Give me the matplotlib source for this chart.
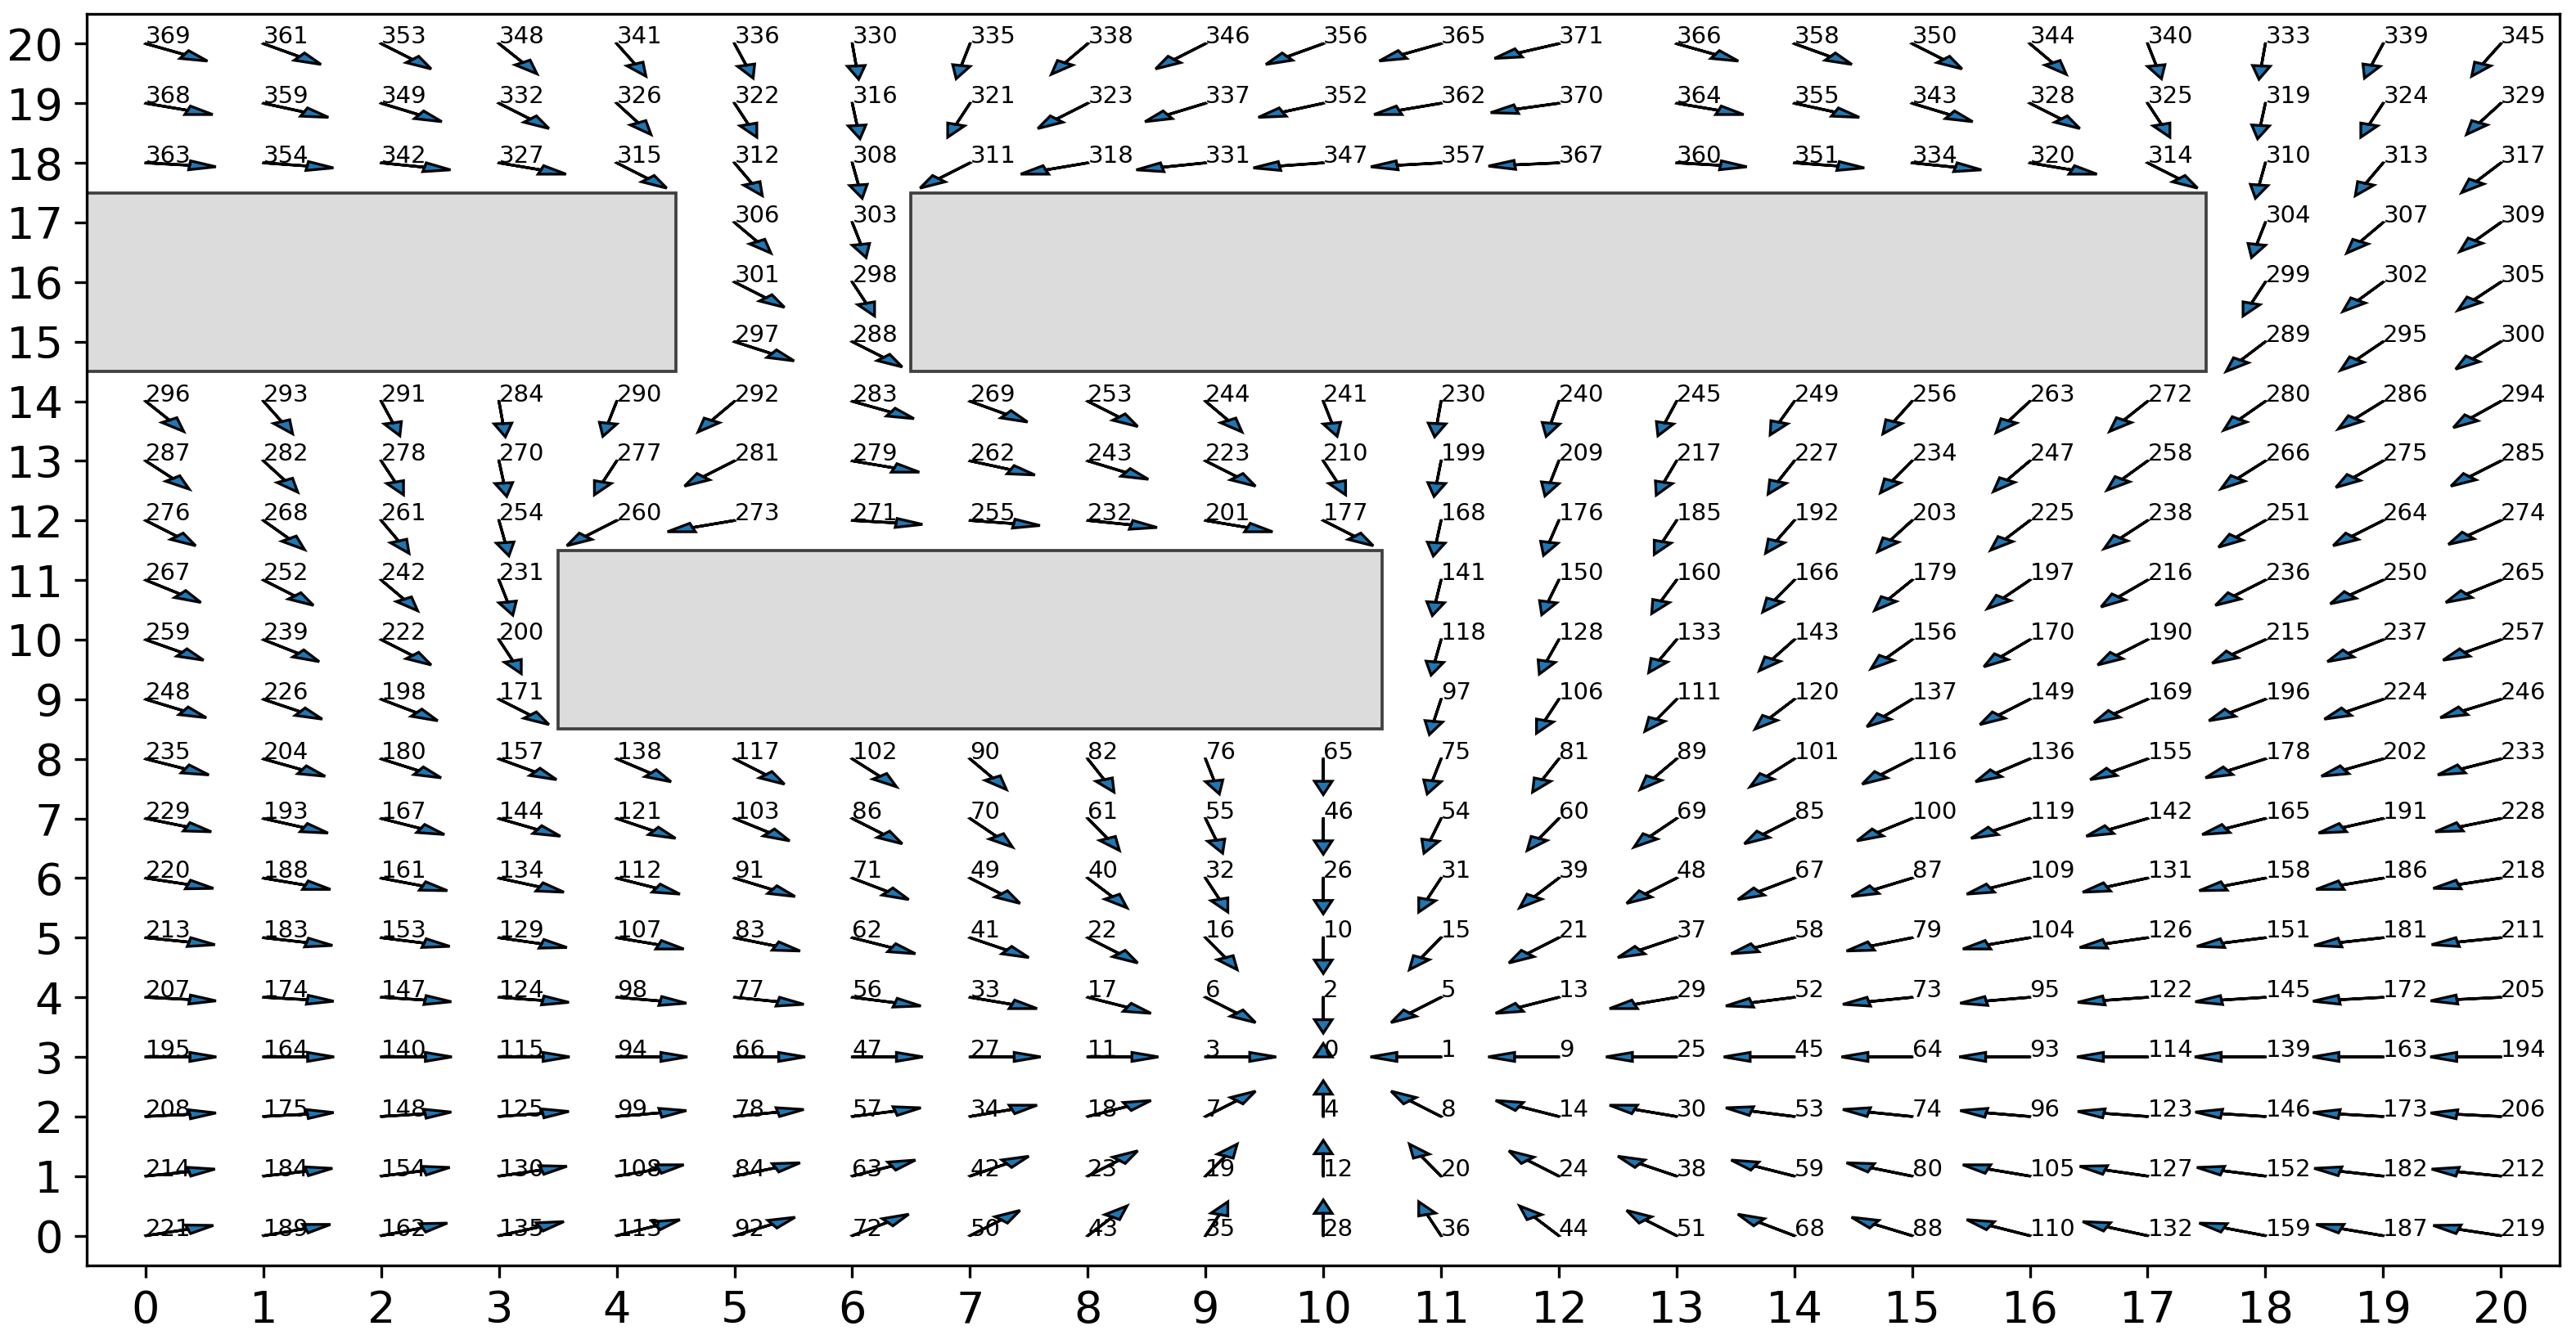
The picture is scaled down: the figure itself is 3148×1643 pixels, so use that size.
import numpy as np
import matplotlib
matplotlib.use("Agg")
import matplotlib.pyplot as plt
from matplotlib.patches import Rectangle

# expansion order of every free cell, rows from y=20 down to y=0 (None = obstacle)
labels = [
    [369, 361, 353, 348, 341, 336, 330, 335, 338, 346, 356, 365, 371, 366, 358, 350, 344, 340, 333, 339, 345],
    [368, 359, 349, 332, 326, 322, 316, 321, 323, 337, 352, 362, 370, 364, 355, 343, 328, 325, 319, 324, 329],
    [363, 354, 342, 327, 315, 312, 308, 311, 318, 331, 347, 357, 367, 360, 351, 334, 320, 314, 310, 313, 317],
    [None] * 5 + [306, 303] + [None] * 11 + [304, 307, 309],
    [None] * 5 + [301, 298] + [None] * 11 + [299, 302, 305],
    [None] * 5 + [297, 288] + [None] * 11 + [289, 295, 300],
    [296, 293, 291, 284, 290, 292, 283, 269, 253, 244, 241, 230, 240, 245, 249, 256, 263, 272, 280, 286, 294],
    [287, 282, 278, 270, 277, 281, 279, 262, 243, 223, 210, 199, 209, 217, 227, 234, 247, 258, 266, 275, 285],
    [276, 268, 261, 254, 260, 273, 271, 255, 232, 201, 177, 168, 176, 185, 192, 203, 225, 238, 251, 264, 274],
    [267, 252, 242, 231] + [None] * 7 + [141, 150, 160, 166, 179, 197, 216, 236, 250, 265],
    [259, 239, 222, 200] + [None] * 7 + [118, 128, 133, 143, 156, 170, 190, 215, 237, 257],
    [248, 226, 198, 171] + [None] * 7 + [97, 106, 111, 120, 137, 149, 169, 196, 224, 246],
    [235, 204, 180, 157, 138, 117, 102, 90, 82, 76, 65, 75, 81, 89, 101, 116, 136, 155, 178, 202, 233],
    [229, 193, 167, 144, 121, 103, 86, 70, 61, 55, 46, 54, 60, 69, 85, 100, 119, 142, 165, 191, 228],
    [220, 188, 161, 134, 112, 91, 71, 49, 40, 32, 26, 31, 39, 48, 67, 87, 109, 131, 158, 186, 218],
    [213, 183, 153, 129, 107, 83, 62, 41, 22, 16, 10, 15, 21, 37, 58, 79, 104, 126, 151, 181, 211],
    [207, 174, 147, 124, 98, 77, 56, 33, 17, 6, 2, 5, 13, 29, 52, 73, 95, 122, 145, 172, 205],
    [195, 164, 140, 115, 94, 66, 47, 27, 11, 3, 0, 1, 9, 25, 45, 64, 93, 114, 139, 163, 194],
    [208, 175, 148, 125, 99, 78, 57, 34, 18, 7, 4, 8, 14, 30, 53, 74, 96, 123, 146, 173, 206],
    [214, 184, 154, 130, 108, 84, 63, 42, 23, 19, 12, 20, 24, 38, 59, 80, 105, 127, 152, 182, 212],
    [221, 189, 162, 135, 113, 92, 72, 50, 43, 35, 28, 36, 44, 51, 68, 88, 110, 132, 159, 187, 219],
]

# arrow direction (degrees) read for each cell, same layout; None at the goal cell
angles = [
    [-29.1, -35.5, -45, -57.5, -65.6, -74.7, -84.8, -101.3, -121.0, -135, -144.5, -151.0, -155.6, -29.1, -35.5, -45, -59.0, -78.7, -95.2, -105.3, -114.4],
    [-18.4, -23.2, -31.0, -45, -61.0, -71.6, -83.7, -108.4, -135, -149.0, -156.8, -161.6, -164.7, -18.4, -23.2, -31.0, -45, -71.6, -96.3, -108.4, -119.1],
    [-6.3, -8.1, -11.3, -18.4, -45, -66.8, -81.9, -135, -161.6, -168.7, -171.9, -173.7, -174.8, -6.3, -8.1, -11.3, -18.4, -45, -98.1, -113.2, -123.7],
    [None] * 5 + [-59.0, -78.7] + [None] * 11 + [-101.3, -121.0, -125.5],
    [None] * 5 + [-45, -71.6] + [None] * 11 + [-108.4, -124.7, -127.6],
    [None] * 5 + [-32.5, -45] + [None] * 11 + [-123.7, -126.9, -129.8],
    [-57.5, -65.6, -74.7, -84.8, -101.3, -121.0, -29.1, -35.5, -45, -59.0, -78.7, -95.2, -100.3, -105.3, -110.0, -114.4, -118.6, -122.5, -126.0, -129.3, -132.3],
    [-52.1, -61.0, -71.6, -83.7, -108.4, -135, -18.4, -23.2, -31.0, -45, -71.6, -95.7, -101.3, -106.7, -111.8, -116.6, -121.0, -125.0, -128.7, -132.0, -135],
    [-45, -54.5, -66.8, -81.9, -135, -161.6, -6.3, -8.1, -11.3, -18.4, -45, -96.3, -102.5, -108.4, -114.0, -119.1, -123.7, -127.9, -131.6, -135, -138.0],
    [-38.7, -45, -59.0, -78.7] + [None] * 7 + [-97.1, -104.0, -110.6, -116.6, -122.0, -126.9, -131.2, -135, -138.4, -141.3],
    [-35.0, -37.9, -45, -71.6] + [None] * 7 + [-98.1, -106.0, -113.2, -119.7, -125.5, -130.6, -135, -138.8, -142.1, -145.0],
    [-31.0, -33.7, -36.9, -45] + [None] * 7 + [-99.5, -108.4, -116.6, -123.7, -129.8, -135, -139.4, -143.1, -146.3, -149.0],
    [-26.6, -29.1, -32.0, -35.5, -39.8, -45, -51.3, -59.0, -68.2, -78.7, -90, -101.3, -111.8, -121.0, -128.7, -135, -140.2, -144.5, -148.0, -151.0, -153.4],
    [-21.8, -24.0, -26.6, -29.7, -33.7, -38.7, -45, -53.1, -63.4, -76.0, -90, -104.0, -116.6, -126.9, -135, -141.3, -146.3, -150.3, -153.4, -156.0, -158.2],
    [-16.7, -18.4, -20.6, -23.2, -26.6, -31.0, -36.9, -45, -56.3, -71.6, -90, -108.4, -123.7, -135, -143.1, -149.0, -153.4, -156.8, -159.4, -161.6, -163.3],
    [-11.3, -12.5, -14.0, -15.9, -18.4, -21.8, -26.6, -33.7, -45, -63.4, -90, -116.6, -135, -146.3, -153.4, -158.2, -161.6, -164.1, -166.0, -167.5, -168.7],
    [-5.7, -6.3, -7.1, -8.1, -9.5, -11.3, -14.0, -18.4, -26.6, -45, -90, -135, -153.4, -161.6, -166.0, -168.7, -170.5, -171.9, -172.9, -173.7, -174.3],
    [0, 0, 0, 0, 0, 0, 0, 0, 0, 0, None, 180, 180, 180, 180, 180, 180, 180, 180, 180, 180],
    [5.7, 6.3, 7.1, 8.1, 9.5, 11.3, 14.0, 18.4, 26.6, 45, 90, 135, 153.4, 161.6, 166.0, 168.7, 170.5, 171.9, 172.9, 173.7, 174.3],
    [11.3, 12.5, 14.0, 15.9, 18.4, 21.8, 26.6, 33.7, 45, 63.4, 90, 116.6, 135, 146.3, 153.4, 158.2, 161.6, 164.1, 166.0, 167.5, 168.7],
    [16.7, 18.4, 20.6, 23.2, 26.6, 31.0, 36.9, 45, 56.3, 71.6, 90, 108.4, 123.7, 135, 143.1, 149.0, 153.4, 156.8, 159.4, 161.6, 163.3],
]

# obstacles: (left, bottom, width, height)
obstacles = [(-0.5, 14.5, 5, 3), (3.5, 8.5, 7, 3), (6.5, 14.5, 11, 3)]

fig = plt.figure(figsize=(3148 / 300, 1643 / 300), dpi=300)
ax = fig.add_axes([0.0337, 0.0584, 0.96, 0.9313])

for (x0, y0, w, h) in obstacles:
    ax.add_patch(Rectangle((x0, y0), w, h, facecolor='gainsboro',
                           edgecolor='#404040', lw=0.9))

nrows = len(labels)
for r in range(nrows):
    y = nrows - 1 - r
    for x in range(len(labels[r])):
        lab = labels[r][x]
        if lab is None:
            continue
        ang = angles[r][x]
        if ang is None:
            dx, dy = 0.0, 0.0
        else:
            dx = 0.375 * np.cos(np.radians(ang))
            dy = 0.375 * np.sin(np.radians(ang))
        ax.arrow(x, y, dx, dy, head_width=0.15, head_length=0.225,
                 fc='C0', ec='k', lw=0.8)
        ax.text(x, y, str(lab), fontsize=7)

ax.set_xlim(-0.5, 20.5)
ax.set_ylim(-0.5, 20.5)
ax.set_xticks(range(21))
ax.set_yticks(range(21))
ax.tick_params(labelsize=13)

fig.savefig('out.png', dpi=300)
